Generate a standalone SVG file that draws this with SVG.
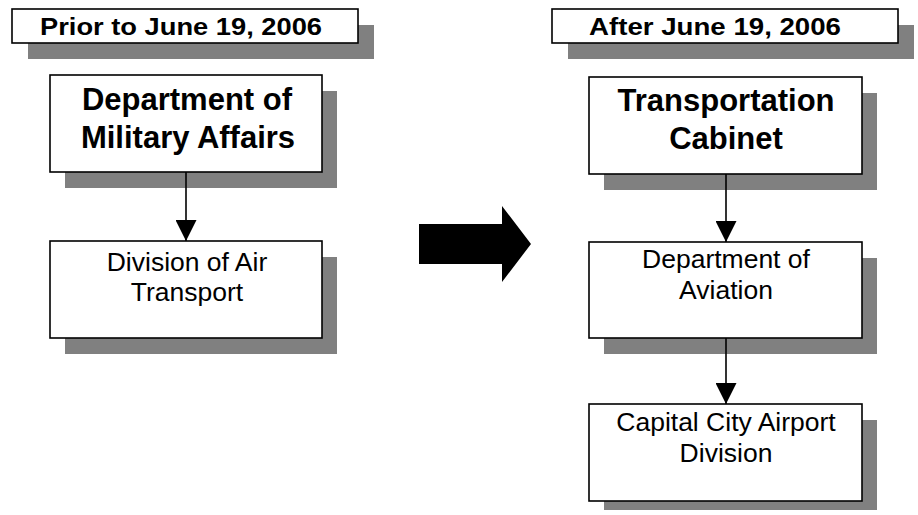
<svg xmlns="http://www.w3.org/2000/svg" width="918" height="515" viewBox="0 0 918 515">
<defs>
<style>
.shadow{fill:#808080;stroke:none}
.box{fill:#ffffff;stroke:#000000;stroke-width:1.6}
.hdr{font-family:"Liberation Sans",Arial,sans-serif;font-weight:bold;font-size:24px;fill:#000;text-anchor:middle}
.big{font-family:"Liberation Sans",Arial,sans-serif;font-weight:bold;font-size:31px;fill:#000;text-anchor:middle}
.reg{font-family:"Liberation Sans",Arial,sans-serif;font-size:26.5px;fill:#000;text-anchor:middle}
.conn{stroke:#000;stroke-width:1.6;fill:none}
</style>
<marker id="ah" viewBox="0 0 21 21" refX="21" refY="10.5" markerWidth="21" markerHeight="21" markerUnits="userSpaceOnUse" orient="auto">
<path d="M0,0 L21,10.5 L0,21 Z" fill="#000"/>
</marker>
</defs>
<rect width="918" height="515" fill="#ffffff"/>

<g id="header-prior">
<rect class="shadow" x="28" y="25" width="346" height="34"/>
<rect class="box" x="12" y="9" width="346" height="34"/>
<text class="hdr" x="181" y="35" textLength="282" lengthAdjust="spacingAndGlyphs">Prior to June 19, 2006</text>
</g>

<g id="header-after">
<rect class="shadow" x="568" y="25" width="346" height="34"/>
<rect class="box" x="552" y="9" width="346" height="34"/>
<text class="hdr" x="715" y="35" textLength="252" lengthAdjust="spacingAndGlyphs">After June 19, 2006</text>
</g>

<g id="node-dma">
<rect class="shadow" x="65" y="91" width="272" height="97"/>
<rect class="box" x="50" y="75" width="272" height="97"/>
<text class="big" x="187" y="110">Department of</text>
<text class="big" x="188" y="148">Military Affairs</text>
</g>

<g id="node-dat">
<rect class="shadow" x="65" y="257" width="272" height="97"/>
<rect class="box" x="50" y="241" width="272" height="97"/>
<text class="reg" x="187" y="271">Division of Air</text>
<text class="reg" x="187" y="301">Transport</text>
</g>

<g id="node-tc">
<rect class="shadow" x="604" y="93" width="273" height="97"/>
<rect class="box" x="589" y="77" width="273" height="97"/>
<text class="big" x="726" y="111">Transportation</text>
<text class="big" x="726" y="149">Cabinet</text>
</g>

<g id="node-doa">
<rect class="shadow" x="604" y="258" width="273" height="96"/>
<rect class="box" x="589" y="242" width="273" height="96"/>
<text class="reg" x="726" y="268">Department of</text>
<text class="reg" x="726" y="299">Aviation</text>
</g>

<g id="node-ccad">
<rect class="shadow" x="604" y="420" width="273" height="90"/>
<rect class="box" x="589" y="404" width="273" height="97"/>
<text class="reg" x="726" y="431">Capital City Airport</text>
<text class="reg" x="726" y="462">Division</text>
</g>

<g id="transition-arrow">
<polygon points="419,224 502,224 502,206 531,244 502,282 502,264 419,264" fill="#000"/>
</g>

<g id="connectors">
<line class="conn" x1="186" y1="172" x2="186" y2="241" marker-end="url(#ah)"/>
<line class="conn" x1="726" y1="174" x2="726" y2="242" marker-end="url(#ah)"/>
<line class="conn" x1="726" y1="338" x2="726" y2="404" marker-end="url(#ah)"/>
</g>
</svg>
